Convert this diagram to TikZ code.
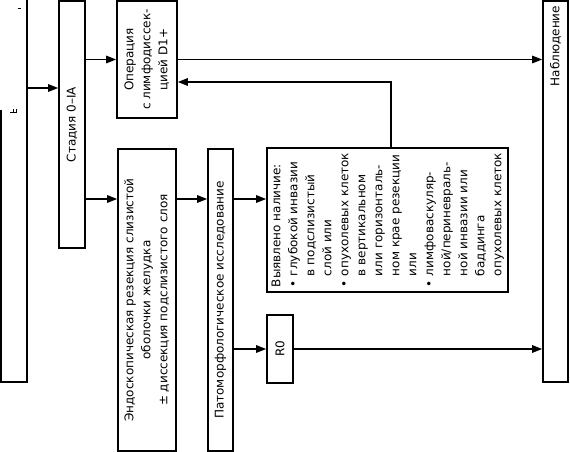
\documentclass[tikz,border=0pt]{standalone}
\usepackage{fontspec}
\setmainfont{DejaVu Sans}
\usetikzlibrary{arrows.meta}

\begin{document}
\begin{tikzpicture}[
    x=1pt, y=-1pt,
    every node/.style={font=\fontsize{12}{17}\selectfont},
    box/.style={draw, line width=1.6pt, inner sep=0pt, align=center},
    flow/.style={-{Triangle[length=10pt,width=7.5pt]}, line width=1.3pt}
  ]
  \useasboundingbox (0,0) rectangle (570,452);

  % Cut-off box on the left edge
  \draw[line width=1.6pt] (1,110) -- (1,382) -- (27,382) -- (27,0);
  \draw[line width=0.8pt] (18,8) -- (21,8);
  \draw[line width=0.8pt] (10,112.5) -- (17,112.5) (13,109) -- (13,112.5) (16,109) -- (16,112.5);
  \coordinate (prev) at (27,88);

  % Boxes
  \node[box, minimum width=26pt, minimum height=247pt] (stage) at (72,124.5)
    {\rotatebox{90}{Стадия 0–IA}};
  \node[box, minimum width=60pt, minimum height=117pt] (oper) at (147,59.5)
    {\rotatebox{90}{\begin{tabular}{c}Операция\\с лимфодиссек-\\цией D1+\end{tabular}}};
  \node[box, minimum width=58pt, minimum height=302pt] (endo) at (147,300)
    {\rotatebox{90}{\begin{tabular}{c}Эндоскопическая резекция слизистой\\оболочки желудка\\± диссекция подслизистого слоя\end{tabular}}};
  \node[box, minimum width=25pt, minimum height=302pt] (patho) at (220.5,300)
    {\rotatebox{90}{Патоморфологическое исследование}};
  \node[box, minimum width=241pt, minimum height=144pt] (found) at (387.5,220)
    {\rotatebox{90}{\begin{tabular}{@{}c@{\hspace{4pt}}l@{}}
      \multicolumn{2}{@{}l@{}}{Выявлено наличие:}\\
      • & глубокой инвазии\\
        & в подслизистый\\
        & слой или\\
      • & опухолевых клеток\\
        & в вертикальном\\
        & или горизонталь-\\
        & ном крае резекции\\
        & или\\
      • & лимфоваскуляр-\\
        & ной/периневраль-\\
        & ной инвазии или\\
        & баддинга\\
        & опухолевых клеток
    \end{tabular}}};
  \node[box, minimum width=26pt, minimum height=68pt] (rzero) at (280,349)
    {\rotatebox{90}{R0}};
  \node[box, minimum width=25pt, minimum height=381pt] (watch) at (555.5,191.5) {};
  \node[rotate=90] (watchtext) at (watch.north |- 0,46) {Наблюдение};

  % Arrows
  \draw[flow] (prev) -- (stage.west |- prev);
  \draw[flow] (stage.east |- oper.west) -- (oper.west);
  \draw[flow] (stage.east |- 0,199) -- (endo.west |- 0,199);
  \draw[flow] (endo.east |- 0,199) -- (patho.west |- 0,199);
  \draw[flow] (patho.east |- 0,199) -- (found.west |- 0,199);
  \draw[flow] (patho.east |- rzero.west) -- (rzero.west);
  \draw[flow] (rzero.east) -- (watch.west |- rzero.east);
  \draw[flow] (oper.east) -- (watch.west |- oper.east);
  \draw[flow] ([xshift=3.5pt]found.north) |- (oper.east |- 0,82);

\end{tikzpicture}
\end{document}
